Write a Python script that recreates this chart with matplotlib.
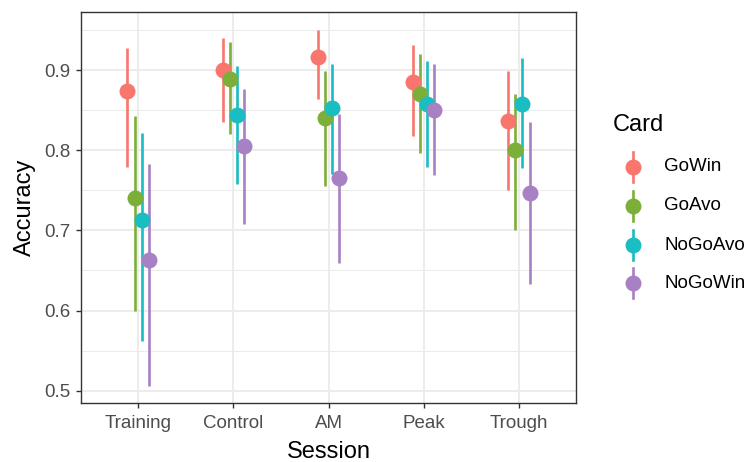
import matplotlib
matplotlib.use("Agg")
import matplotlib.pyplot as plt
import numpy as np
from matplotlib.ticker import MultipleLocator

plt.rcParams['font.family'] = ['Liberation Sans', 'DejaVu Sans']

sessions = ["Training", "Control", "AM", "Peak", "Trough"]
cards = ["GoWin", "GoAvo", "NoGoAvo", "NoGoWin"]
colors = ["#F8766D", "#7CAE3A", "#19BDC2", "#A880C4"]

# mean accuracy per card, one value per session
mean_gowin = [0.874, 0.900, 0.917, 0.885, 0.837]
mean_goavo = [0.740, 0.889, 0.840, 0.870, 0.800]
mean_nogoavo = [0.713, 0.844, 0.853, 0.858, 0.858]
mean_nogowin = [0.663, 0.806, 0.765, 0.850, 0.747]

low_gowin = [0.779, 0.836, 0.864, 0.818, 0.751]
low_goavo = [0.600, 0.821, 0.755, 0.797, 0.701]
low_nogoavo = [0.562, 0.758, 0.770, 0.779, 0.778]
low_nogowin = [0.506, 0.708, 0.659, 0.769, 0.633]

high_gowin = [0.928, 0.940, 0.950, 0.932, 0.899]
high_goavo = [0.843, 0.935, 0.899, 0.921, 0.871]
high_nogoavo = [0.822, 0.905, 0.908, 0.912, 0.915]
high_nogowin = [0.783, 0.877, 0.846, 0.908, 0.835]

means = [mean_gowin, mean_goavo, mean_nogoavo, mean_nogowin]
lows = [low_gowin, low_goavo, low_nogoavo, low_nogowin]
highs = [high_gowin, high_goavo, high_nogoavo, high_nogowin]

W, H = 751, 462
fig = plt.figure(figsize=(W / 100, H / 100), dpi=100)
ax = fig.add_axes([81 / W, 1 - 403 / H, (576 - 81) / W, (403 - 12.3) / H])

x = np.arange(len(sessions))
dodge = 0.3
offsets = (np.arange(len(cards)) - (len(cards) - 1) / 2) * dodge / len(cards)

for k, card in enumerate(cards):
    xs = x + offsets[k]
    ax.vlines(xs, lows[k], highs[k], color=colors[k], lw=1.9, zorder=3)
    ax.plot(xs, means[k], 'o', color=colors[k], ms=11.5, mec='none', zorder=4)

ax.set_xlim(-0.6, len(sessions) - 0.4)
ax.set_ylim(0.4845, 0.9725)
ax.set_xticks(x)
ax.set_xticklabels(sessions)
ax.yaxis.set_major_locator(MultipleLocator(0.1))
ax.yaxis.set_minor_locator(MultipleLocator(0.05))
ax.yaxis.set_major_formatter(matplotlib.ticker.FormatStrFormatter('%.1f'))

ax.grid(True, which='major', color='#EBEBEB', lw=1.3, zorder=0)
ax.grid(True, which='minor', axis='y', color='#EBEBEB', lw=0.7, zorder=0)
ax.set_axisbelow(True)
for s in ax.spines.values():
    s.set_color('#333333')
    s.set_linewidth(1.0)
ax.tick_params(which='major', length=3.5, width=1.0, color='#333333',
               labelsize=13.5, labelcolor='#4D4D4D', pad=4)
ax.tick_params(axis='x', which='major', pad=5.5)
ax.tick_params(which='minor', length=0)

ax.set_xlabel("Session", fontsize=17, labelpad=6)
ax.set_ylabel("Accuracy", fontsize=17, labelpad=6)

# legend drawn in pixel space
lax = fig.add_axes([0, 0, 1, 1], zorder=-1)
lax.set_xlim(0, W)
lax.set_ylim(H, 0)
lax.axis('off')
lax.text(613, 125, "Card", fontsize=17, va='center', ha='left')
key_y = [166.7, 206, 245, 283.3]
for k, card in enumerate(cards):
    yk = key_y[k]
    lax.plot([632.7, 632.7], [yk - 15, yk + 15], color=colors[k], lw=1.9)
    lax.plot([632.7], [yk], 'o', color=colors[k], ms=11.5, mec='none')
    lax.text(664, yk, card, fontsize=13.5, va='center', ha='left')

fig.savefig("out.png", dpi=100)
